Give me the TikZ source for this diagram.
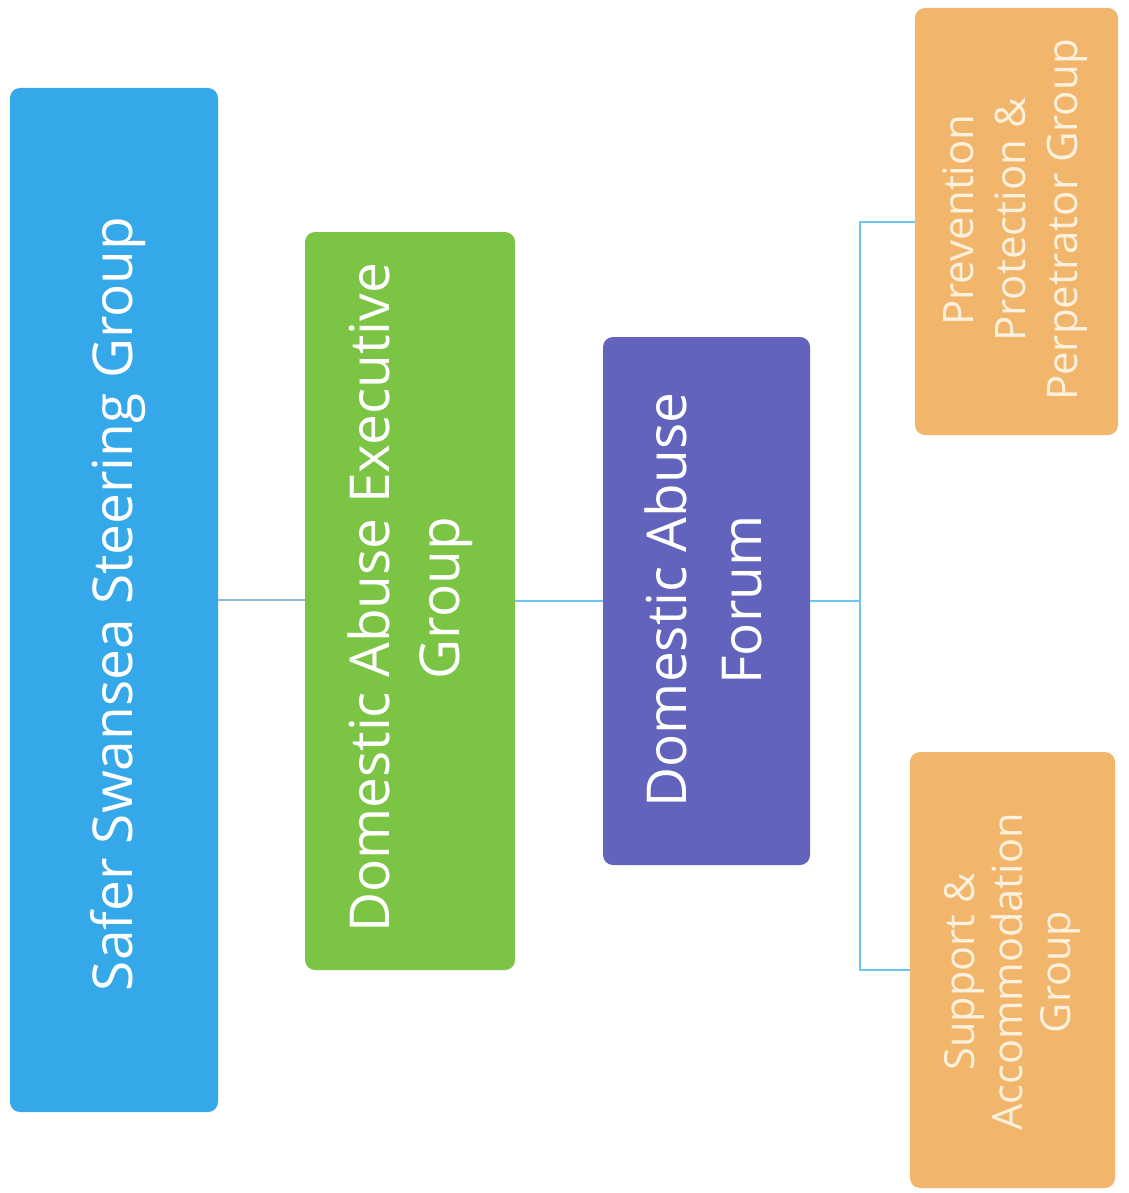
\documentclass[tikz,border=0pt]{standalone}
\usepackage{fontspec}
\setmainfont{Open Sans}
\definecolor{cblue}{HTML}{35A8EA}
\definecolor{cgreen}{HTML}{7CC444}
\definecolor{cpurple}{HTML}{6163BD}
\definecolor{corange}{HTML}{F2B56C}
\definecolor{cline}{HTML}{6CC4F0}
\definecolor{cline2}{HTML}{8DB9D9}
\definecolor{ctextor}{HTML}{FCF1DC}
\begin{document}
\begin{tikzpicture}[x=1pt,y=-1pt,
  box/.style={rounded corners=10pt, inner sep=0pt, draw=none},
  lbl/.style={rotate=90, align=center, text=white, inner sep=0pt},
  conn/.style={draw=cline, line width=2pt}]
\useasboundingbox (0,0) rectangle (1128,1193);
\fill[white] (0,0) rectangle (1128,1193);
% boxes
\node[box, fill=cblue, minimum width=208pt, minimum height=1024pt] (blue) at (114,600) {};
\node[box, fill=cgreen, minimum width=210pt, minimum height=738pt] (green) at (410,601) {};
\node[box, fill=cpurple, minimum width=207pt, minimum height=528pt] (purple) at (706.5,601) {};
\node[box, fill=corange, minimum width=203pt, minimum height=427pt] (ortop) at (1016.5,221.5) {};
\node[box, fill=corange, minimum width=205pt, minimum height=436pt] (orbot) at (1012.5,970) {};
% texts
\node[lbl, font=\fontsize{55}{70}\selectfont] (bluetext) at (118,604) {Safer Swansea Steering Group};
\node[lbl, font=\fontsize{55}{70}\selectfont] (greentext) at (410,598) {Domestic Abuse Executive\\Group};
\node[lbl, font=\fontsize{55}{75}\selectfont] (purpletext) at (703,600) {Domestic Abuse\\Forum};
\node[lbl, text=ctextor, font=\fontsize{42}{52}\selectfont] (ortoptext) at (1015,220) {Prevention\\Protection \&\\Perpetrator Group};
\node[lbl, text=ctextor, font=\fontsize{41.5}{48}\selectfont] (orbottext) at (1012,972) {Support \&\\Accommodation\\Group};
% connectors
\coordinate (j) at (860,601);
\draw[draw=cline2, line width=2pt] (blue.east) -- (blue.east -| green.west);
\draw[conn] (green.east) -- (green.east -| purple.west);
\draw[conn] (purple.east) -- (j);
\draw[conn] (ortop.west) -| (j) |- (orbot.west);
\end{tikzpicture}
\end{document}
